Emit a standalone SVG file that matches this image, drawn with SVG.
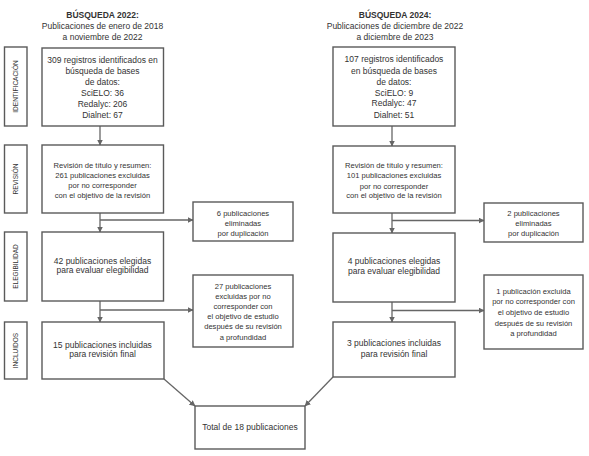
<svg xmlns="http://www.w3.org/2000/svg" width="589" height="456" viewBox="0 0 589 456">
<style>
.bg{fill:#fff}
.box{fill:#fff;stroke:#5a5a5a;stroke-width:1.4}
.t{font-family:"Liberation Sans",Arial,sans-serif;font-size:8.5px;fill:#333;text-anchor:middle}
.s{font-size:7.6px}
.h{font-weight:bold}
.lab{font-family:"Liberation Sans",Arial,sans-serif;font-size:6.5px;fill:#333;text-anchor:middle}
.c{fill:none;stroke:#666;stroke-width:1.3}
</style>
<defs>
<marker id="ah" markerUnits="userSpaceOnUse" markerWidth="6" markerHeight="6" refX="5.5" refY="3" orient="auto">
<path d="M0,0 L6,3 L0,6 z" fill="#666"/>
</marker>
</defs>
<rect class="bg" width="589" height="456"/>

<g id="headings">
<text class="t h" x="102.5" y="18">BÚSQUEDA 2022:</text>
<text class="t" x="102.5" y="29">Publicaciones de enero de 2018</text>
<text class="t" x="102.5" y="40">a noviembre de 2022</text>
<text class="t h" x="395" y="18">BÚSQUEDA 2024:</text>
<text class="t" x="395" y="29">Publicaciones de diciembre de 2022</text>
<text class="t" x="395" y="40">a diciembre de 2023</text>
</g>

<g id="label-identificacion">
<rect class="box" x="4.5" y="47" width="22.5" height="79"/>
<text class="lab" transform="translate(18,86.5) rotate(-90)">IDENTIFICACIÓN</text>
</g>
<g id="label-revision">
<rect class="box" x="4.5" y="145" width="22.5" height="68"/>
<text class="lab" transform="translate(18,179) rotate(-90)">REVISIÓN</text>
</g>
<g id="label-elegibilidad">
<rect class="box" x="4.5" y="232" width="22.5" height="69"/>
<text class="lab" transform="translate(18,266.5) rotate(-90)">ELEGIBILIDAD</text>
</g>
<g id="label-incluidos">
<rect class="box" x="4.5" y="322" width="22.5" height="57"/>
<text class="lab" transform="translate(18,350.5) rotate(-90)">INCLUIDOS</text>
</g>

<g id="connectors">
<line class="c" x1="100" y1="126" x2="100" y2="145" marker-end="url(#ah)"/>
<line class="c" x1="100" y1="213" x2="100" y2="232" marker-end="url(#ah)"/>
<line class="c" x1="100" y1="220" x2="193" y2="220" marker-end="url(#ah)"/>
<line class="c" x1="100" y1="301" x2="100" y2="322" marker-end="url(#ah)"/>
<line class="c" x1="100" y1="310" x2="193" y2="310" marker-end="url(#ah)"/>
<line class="c" x1="164" y1="379" x2="195" y2="406" marker-end="url(#ah)"/>
<line class="c" x1="392" y1="126" x2="392" y2="146" marker-end="url(#ah)"/>
<line class="c" x1="392" y1="213" x2="392" y2="233" marker-end="url(#ah)"/>
<line class="c" x1="392" y1="220.5" x2="484" y2="220.5" marker-end="url(#ah)"/>
<line class="c" x1="392" y1="302" x2="392" y2="322" marker-end="url(#ah)"/>
<line class="c" x1="392" y1="310.5" x2="484" y2="310.5" marker-end="url(#ah)"/>
<line class="c" x1="333" y1="377" x2="305" y2="406" marker-end="url(#ah)"/>
</g>

<g id="n-ident-2022">
<rect class="box" x="42" y="48" width="121.5" height="78"/>
<text class="t" x="102.5" y="63">309 registros identificados en</text>
<text class="t" x="102.5" y="74">búsqueda de bases</text>
<text class="t" x="102.5" y="85">de datos:</text>
<text class="t" x="102.5" y="96">SciELO: 36</text>
<text class="t" x="102.5" y="107">Redalyc: 206</text>
<text class="t" x="102.5" y="118">Dialnet: 67</text>
</g>
<g id="n-rev-2022">
<rect class="box" x="42" y="145" width="121.5" height="68"/>
<text class="t s" x="102.5" y="168">Revisión de título y resumen:</text>
<text class="t s" x="102.5" y="178">261 publicaciones excluidas</text>
<text class="t s" x="102.5" y="188">por no corresponder</text>
<text class="t s" x="102.5" y="198">con el objetivo de la revisión</text>
</g>
<g id="n-dup-2022">
<rect class="box" x="193" y="202" width="100" height="39"/>
<text class="t s" x="243" y="215.5">6 publicaciones</text>
<text class="t s" x="243" y="225.5">eliminadas</text>
<text class="t s" x="243" y="235.5">por duplicación</text>
</g>
<g id="n-eleg-2022">
<rect class="box" x="42" y="232" width="121.5" height="69"/>
<text class="t" x="102.5" y="263.5">42 publicaciones elegidas</text>
<text class="t" x="102.5" y="273">para evaluar elegibilidad</text>
</g>
<g id="n-excl-2022">
<rect class="box" x="193" y="275" width="100" height="72"/>
<text class="t s" x="243" y="288.5">27 publicaciones</text>
<text class="t s" x="243" y="298.7">excluidas por no</text>
<text class="t s" x="243" y="308.9">corresponder con</text>
<text class="t s" x="243" y="319.1">el objetivo de estudio</text>
<text class="t s" x="243" y="329.3">después de su revisión</text>
<text class="t s" x="243" y="339.5">a profundidad</text>
</g>
<g id="n-incl-2022">
<rect class="box" x="42" y="322" width="122" height="57"/>
<text class="t" x="102.5" y="348">15 publicaciones incluidas</text>
<text class="t" x="102.5" y="357">para revisión final</text>
</g>

<g id="n-ident-2024">
<rect class="box" x="333" y="47" width="122" height="79"/>
<text class="t" x="394" y="62">107 registros identificados</text>
<text class="t" x="394" y="74">en búsqueda de bases</text>
<text class="t" x="394" y="85">de datos:</text>
<text class="t" x="394" y="96">SciELO: 9</text>
<text class="t" x="394" y="106">Redalyc: 47</text>
<text class="t" x="394" y="118">Dialnet: 51</text>
</g>
<g id="n-rev-2024">
<rect class="box" x="333" y="146" width="122" height="67"/>
<text class="t s" x="394" y="168">Revisión de título y resumen:</text>
<text class="t s" x="394" y="177.5">101 publicaciones excluidas</text>
<text class="t s" x="394" y="188.5">por no corresponder</text>
<text class="t s" x="394" y="198">con el objetivo de la revisión</text>
</g>
<g id="n-dup-2024">
<rect class="box" x="484" y="203" width="99" height="39"/>
<text class="t s" x="533.5" y="215.5">2 publicaciones</text>
<text class="t s" x="533.5" y="225.8">eliminadas</text>
<text class="t s" x="533.5" y="236">por duplicación</text>
</g>
<g id="n-eleg-2024">
<rect class="box" x="333" y="233" width="122" height="69"/>
<text class="t" x="394" y="263.5">4 publicaciones elegidas</text>
<text class="t" x="394" y="273.5">para evaluar elegibilidad</text>
</g>
<g id="n-excl-2024">
<rect class="box" x="484" y="275" width="99" height="74"/>
<text class="t s" x="533.5" y="293.5">1 publicación excluida</text>
<text class="t s" x="533.5" y="304.3">por no corresponder con</text>
<text class="t s" x="533.5" y="315.3">el objetivo de estudio</text>
<text class="t s" x="533.5" y="325.5">después de su revisión</text>
<text class="t s" x="533.5" y="335.5">a profundidad</text>
</g>
<g id="n-incl-2024">
<rect class="box" x="333" y="322" width="122" height="55"/>
<text class="t" x="394" y="346">3 publicaciones incluidas</text>
<text class="t" x="394" y="357">para revisión final</text>
</g>

<g id="n-total">
<rect class="box" x="195" y="406" width="110" height="43"/>
<text class="t" x="250" y="430">Total de 18 publicaciones</text>
</g>
</svg>
